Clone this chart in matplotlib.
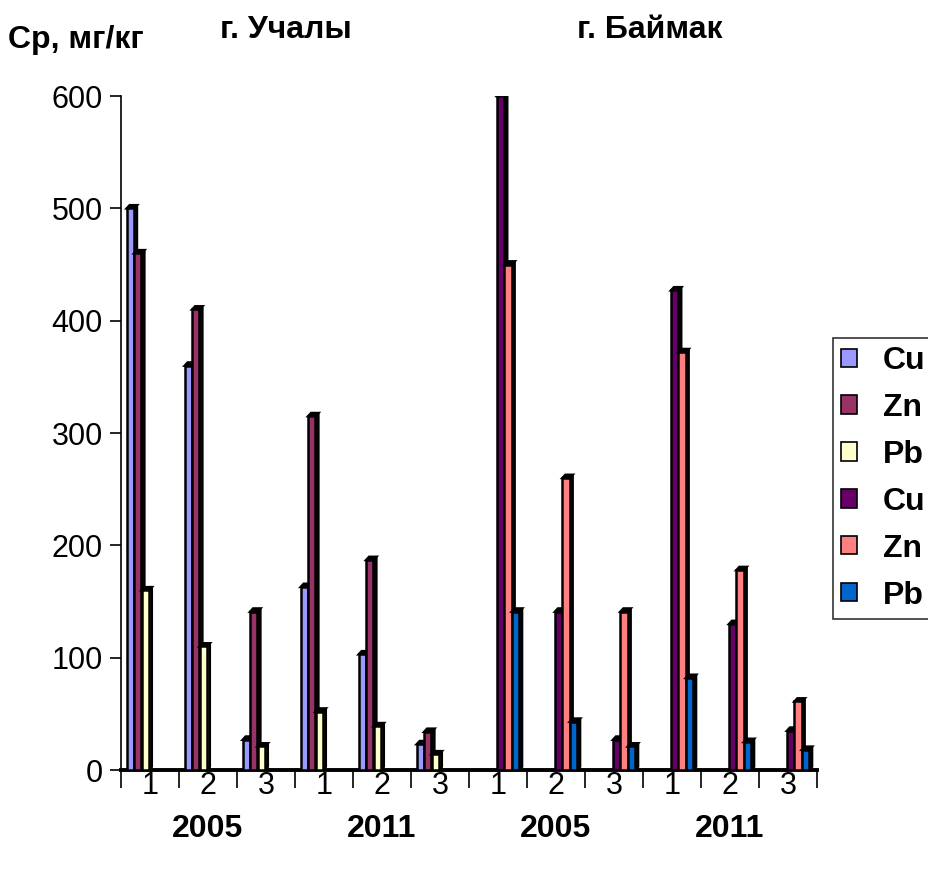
import numpy as np
import matplotlib.pyplot as plt
from matplotlib.patches import Polygon, Patch
from matplotlib.colors import to_rgb

plt.rcParams['font.family'] = ['Liberation Sans', 'DejaVu Sans']

# categories: sample point 1-3, two years per town, two towns
points = ['1', '2', '3', '1', '2', '3', '1', '2', '3', '1', '2', '3']
years = ['2005', '2011', '2005', '2011']
towns = ['г. Учалы', 'г. Баймак']

# г. Учалы (first 6 categories)
uch_cu = [500, 360, 27, 163, 103, 23]
uch_zn = [460, 410, 141, 315, 187, 34]
uch_pb = [160, 110, 21, 52, 39, 14]
# г. Баймак (last 6 categories)
bay_cu = [600, 141, 27, 427, 130, 35]
bay_zn = [450, 260, 141, 372, 178, 61]
bay_pb = [141, 43, 21, 82, 25, 18]

labels = ['Cu', 'Zn', 'Pb', 'Cu', 'Zn', 'Pb']
colors = ['#9999FF', '#993366', '#FFFFCC', '#660066', '#FF8080', '#0066CC']

n = len(points)
empty = [np.nan] * 6
series = [
    uch_cu + empty, uch_zn + empty, uch_pb + empty,
    empty + bay_cu, empty + bay_zn, empty + bay_pb,
]

fig = plt.figure(figsize=(9.29, 8.71), dpi=100)
ax = fig.add_axes([121 / 929, 101 / 871, 696 / 929, 674 / 871])

step = 0.128
width = 0.125
dx = 0.05   # fake 3d depth, x
dy = 2.8    # fake 3d depth, y


def darker(c, f=0.45):
    r, g, b = to_rgb(c)
    return (r * f, g * f, b * f)


for k, vals in enumerate(series):
    col = colors[k]
    for i, v in enumerate(vals):
        if np.isnan(v):
            continue
        x0 = i - 0.5 + 0.1 + k * step
        x1 = x0 + width
        side = Polygon([(x1, 0), (x1 + dx, dy), (x1 + dx, v + dy), (x1, v)],
                       closed=True, facecolor=darker(col), edgecolor='black', lw=1.8, zorder=3)
        top = Polygon([(x0, v), (x0 + dx, v + dy), (x1 + dx, v + dy), (x1, v)],
                      closed=True, facecolor='black', edgecolor='black', lw=1.8, zorder=3)
        ax.add_patch(side)
        ax.add_patch(top)
        ax.bar(x0, v, width=width, align='edge', color=col, edgecolor='black', lw=1.8, zorder=3)

ax.set_xlim(-0.5, n - 0.5)
ax.set_ylim(0, 600)
ax.set_yticks([0, 100, 200, 300, 400, 500, 600])
ax.tick_params(axis='y', labelsize=22, length=8, width=1.2, pad=5)
ax.set_xticks(np.arange(n + 1) - 0.5)
ax.set_xticklabels([])
ax.set_xticks(np.arange(n), minor=True)
ax.set_xticklabels(points, minor=True)
ax.tick_params(axis='x', which='major', length=13, width=1.2, direction='out')
ax.tick_params(axis='x', which='minor', length=0, labelsize=22, pad=1)
ax.spines['top'].set_visible(False)
ax.spines['right'].set_visible(False)
ax.spines['left'].set_linewidth(1.2)
ax.spines['bottom'].set_linewidth(2.8)

# year labels under the middle point of each group
for j, yr in enumerate(years):
    ax.text(j * 3 + 1, -0.087, yr, transform=ax.get_xaxis_transform(),
            ha='center', va='center', fontsize=23, fontweight='bold')

fig.text(8 / 929, 1 - 40 / 871, 'Ср, мг/кг', ha='left', va='center', fontsize=23, fontweight='bold')
fig.text(286 / 929, 1 - 30 / 871, towns[0], ha='center', va='center', fontsize=23, fontweight='bold')
fig.text(650 / 929, 1 - 30 / 871, towns[1], ha='center', va='center', fontsize=23, fontweight='bold')

handles = [Patch(facecolor=c, edgecolor='black', lw=1.2) for c in colors]
leg = fig.legend(handles, labels, loc='upper left', bbox_to_anchor=(833 / 929, 1 - 338 / 871),
                 prop={'size': 23, 'weight': 'bold'}, frameon=True, fancybox=False,
                 edgecolor='black', labelspacing=0.53, handlelength=0.5, handleheight=0.5,
                 handletextpad=0.8, borderaxespad=0, borderpad=0.25)
leg.get_frame().set_linewidth(1.2)

fig.savefig('out.png', dpi=100)
